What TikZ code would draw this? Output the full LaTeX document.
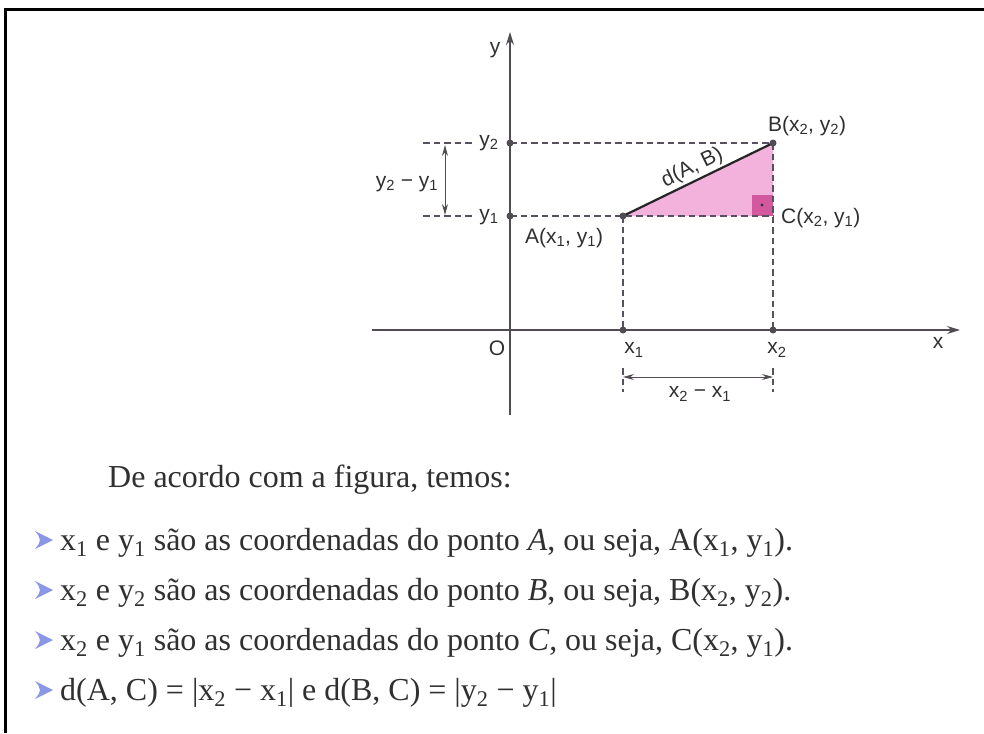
\documentclass[tikz,border=0pt]{standalone}
\usepackage{fontspec}
\setmainfont{Liberation Serif}
\newfontfamily\gsans{Liberation Sans}
\usetikzlibrary{arrows.meta}
\definecolor{axiscol}{RGB}{80,76,82}
\definecolor{dashcol}{RGB}{88,80,96}
\definecolor{tricol}{RGB}{243,178,220}
\definecolor{sqcol}{RGB}{212,88,158}
\definecolor{bulcol}{RGB}{138,150,232}
\definecolor{txtcol}{RGB}{48,48,48}
\newcommand{\dn}[1]{\textsubscript{#1}}
\tikzset{
  axisline/.style={draw=axiscol, line width=1.4pt, -{Stealth[length=13pt,width=8pt]}},
  dashline/.style={draw=dashcol, line width=1.1pt, dash pattern=on 6.5pt off 4pt},
  dimline/.style={draw=axiscol, line width=1pt, {Stealth[length=11pt,width=6pt]}-{Stealth[length=11pt,width=6pt]}},
  ptdot/.style={circle, fill=axiscol, inner sep=0pt, minimum size=7pt},
  lab/.style={font=\gsans\fontsize{21}{21}\selectfont, text=txtcol, inner sep=1pt},
  bodytext/.style={font=\fontsize{32}{32}\selectfont, text=txtcol, anchor=base west, inner sep=0pt},
  bullet/.style={fill=bulcol}
}
\begin{document}
\begin{tikzpicture}[x=1pt,y=-1pt]
\useasboundingbox (0,0) rectangle (984,733);
\fill[white] (0,0) rectangle (984,733);
% frame
\draw[line width=3pt, line join=miter] (5,733) -- (5,10) -- (984,10);

% key points
\coordinate (O) at (510,330);
\coordinate (A) at (623,216);
\coordinate (B) at (773,143);
\coordinate (C) at (773,216);
\coordinate (Y1) at (510,216);
\coordinate (Y2) at (510,143);
\coordinate (X1) at (623,330);
\coordinate (X2) at (773,330);
\coordinate (xs) at (372,330);
\coordinate (xe) at (960,330);
\coordinate (ys) at (510,415);
\coordinate (ye) at (510,32);
\coordinate (l2a) at (423,143);
\coordinate (l2b) at (472,143);
\coordinate (l1a) at (423,216);
\coordinate (l1b) at (472,216);
\coordinate (At) at (623,368);
\coordinate (Ab) at (623,392);
\coordinate (Bt) at (773,368);
\coordinate (Bb) at (773,392);
\coordinate (dx1) at (623,377);
\coordinate (dx2) at (773,377);
\coordinate (dy2) at (445,145);
\coordinate (dy1) at (445,215);
\coordinate (sqc) at (752,195);

% triangle
\fill[tricol] (A) -- (B) -- (C) -- cycle;
\fill[sqcol] (sqc) rectangle (C);
\fill[black!80] (762,205) circle (1.6pt);

% dashed lines
\draw[dashline] (l2a) -- (l2b);
\draw[dashline] (l1a) -- (l1b);
\draw[dashline] (Y2) -- (B);
\draw[dashline] (Y1) -- (C);
\draw[dashline] (A) -- (X1);
\draw[dashline] (B) -- (X2);
\draw[dashline] (At) -- (Ab);
\draw[dashline] (Bt) -- (Bb);

% axes
\draw[axisline] (xs) -- (xe);
\draw[axisline] (ys) -- (ye);

% dimension arrows
\draw[dimline] (dx1) -- (dx2);
\draw[dimline] (dy2) -- (dy1);

% segment AB
\draw[black!85, line width=2.2pt] (A) -- (B) node[lab, midway, sloped, above=1pt] (dab) {d(A, B)};

% dots
\node[ptdot] (dA) at (A) {};
\node[ptdot] (dB) at (B) {};
\node[ptdot] (dY1) at (Y1) {};
\node[ptdot] (dY2) at (Y2) {};
\node[ptdot] (dX1) at (X1) {};
\node[ptdot] (dX2) at (X2) {};

% labels
\node[lab] (ly) at (495,50) {y};
\node[lab] (lx) at (938,343) {x};
\node[lab] (lO) at (497,348) {O};
\node[lab] (ly2) at (489,143) {y\dn{2}};
\node[lab] (ly1) at (489,217) {y\dn{1}};
\node[lab] (ldy) at (407,184) {y\dn{2} − y\dn{1}};
\node[lab] (lA) at (564,238) {A(x\dn{1}, y\dn{1})};
\node[lab] (lB) at (807,126) {B(x\dn{2}, y\dn{2})};
\node[lab, anchor=west] (lC) at (780,218) {C(x\dn{2}, y\dn{1})};
\node[lab] (lx1) at (634,350) {x\dn{1}};
\node[lab] (lx2) at (777,350) {x\dn{2}};
\node[lab] (ldx) at (700,394) {x\dn{2} − x\dn{1}};

% text
\node[bodytext] (t0) at (108,487) {De acordo com a figura, temos:};
\foreach \yy/\nm in {550/b1,600/b2,650/b3,700/b4}{
  \fill[bullet] (53,\yy-10) -- (35,\yy-19) .. controls (39,\yy-14) .. (40,\yy-10) .. controls (39,\yy-6) .. (35,\yy-1) -- cycle;
}
\node[bodytext] (t1) at (60,550) {x\dn{1} e y\dn{1} são as coordenadas do ponto \textit{A}, ou seja, A(x\dn{1}, y\dn{1}).};
\node[bodytext] (t2) at (60,600) {x\dn{2} e y\dn{2} são as coordenadas do ponto \textit{B}, ou seja, B(x\dn{2}, y\dn{2}).};
\node[bodytext] (t3) at (60,650) {x\dn{2} e y\dn{1} são as coordenadas do ponto \textit{C}, ou seja, C(x\dn{2}, y\dn{1}).};
\node[bodytext] (t4) at (60,700) {d(A, C) = |x\dn{2} − x\dn{1}| e d(B, C) = |y\dn{2} − y\dn{1}|};
\end{tikzpicture}
\end{document}
